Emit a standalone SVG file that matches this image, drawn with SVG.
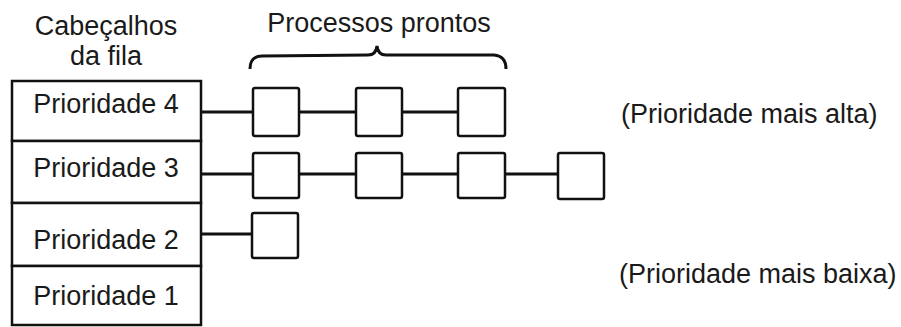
<svg xmlns="http://www.w3.org/2000/svg" width="901" height="327" viewBox="0 0 901 327">
<style>
text{font-family:"Liberation Sans",Arial,sans-serif;font-size:27px;fill:#1a1a1a}
.c{text-anchor:middle}
.box{fill:#fff;stroke:#111;stroke-width:2.5}
.ln{stroke:#111;stroke-width:3;fill:none}
</style>
<rect width="901" height="327" fill="#fff"/>
<g id="header-label">
<text class="c" x="106" y="35">Cabeçalhos</text>
<text class="c" x="106" y="65">da fila</text>
</g>
<g id="ready-label">
<text class="c" x="379" y="32">Processos prontos</text>
<path class="ln" stroke-width="2.5" d="M250,69 Q250,56 262,56 L368,55 Q376,55 377,46 Q378,55 386,55 L494,55 Q506,56 506,69"/>
</g>
<g id="connectors">
<line class="ln" x1="201" y1="112" x2="253" y2="112"/>
<line class="ln" x1="299" y1="112" x2="356" y2="112"/>
<line class="ln" x1="402" y1="112" x2="458" y2="112"/>
<line class="ln" x1="201" y1="174" x2="253" y2="174"/>
<line class="ln" x1="299" y1="174" x2="356" y2="174"/>
<line class="ln" x1="402" y1="174" x2="458" y2="174"/>
<line class="ln" x1="505" y1="174" x2="558" y2="174"/>
<line class="ln" x1="201" y1="234" x2="252" y2="234"/>
</g>
<g id="prio4">
<rect class="box" x="12" y="81" width="189" height="60"/>
<text class="c" x="106" y="113">Prioridade 4</text>
</g>
<g id="prio3">
<rect class="box" x="12" y="141" width="189" height="62"/>
<text class="c" x="106" y="177">Prioridade 3</text>
</g>
<g id="prio2">
<rect class="box" x="12" y="203" width="189" height="63"/>
<text class="c" x="106" y="249">Prioridade 2</text>
</g>
<g id="prio1">
<rect class="box" x="12" y="266" width="189" height="59"/>
<text class="c" x="106" y="305">Prioridade 1</text>
</g>
<g id="p4a"><rect class="box" x="253" y="88" width="46" height="48" rx="2"/></g>
<g id="p4b"><rect class="box" x="356" y="88" width="46" height="48" rx="2"/></g>
<g id="p4c"><rect class="box" x="458" y="88" width="47" height="48" rx="2"/></g>
<g id="p3a"><rect class="box" x="253" y="153" width="46" height="45" rx="2"/></g>
<g id="p3b"><rect class="box" x="356" y="153" width="46" height="45" rx="2"/></g>
<g id="p3c"><rect class="box" x="458" y="153" width="47" height="45" rx="2"/></g>
<g id="p3d"><rect class="box" x="558" y="153" width="46" height="46" rx="2"/></g>
<g id="p2a"><rect class="box" x="252" y="213" width="46" height="45" rx="2"/></g>
<g id="high-label"><text x="621" y="123">(Prioridade mais alta)</text></g>
<g id="low-label"><text x="619" y="283">(Prioridade mais baixa)</text></g>
</svg>
